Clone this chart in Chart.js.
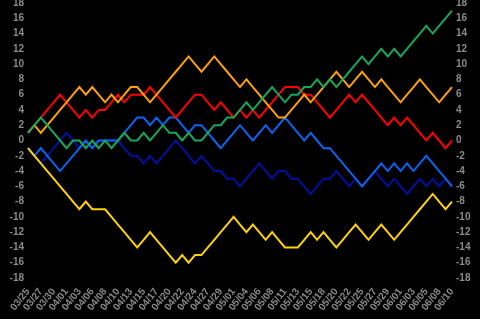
<!DOCTYPE html>
<html>
<head>
<meta charset="utf-8">
<script src="https://cdn.jsdelivr.net/npm/chart.js@4.4.0/dist/chart.umd.min.js"></script>
<style>
  html, body { margin: 0; padding: 0; background: #000; }
  #wrap { width: 480px; height: 319px; }
</style>
</head>
<body>
<div id="wrap"><canvas id="chart"></canvas></div>
<script>
// dates (Mon-Sat), every second one is shown on the axis
const dates = ["03/25","03/26","03/27","03/28","03/30","03/31",
  "04/01","04/02","04/03","04/04","04/06","04/07","04/08","04/09","04/10","04/11","04/13","04/14","04/15","04/16","04/17","04/18","04/20","04/21","04/22","04/23","04/24","04/25","04/27","04/28","04/29","04/30",
  "05/01","05/02","05/04","05/05","05/06","05/07","05/08","05/09","05/11","05/12","05/13","05/14","05/15","05/16","05/18","05/19","05/20","05/21","05/22","05/23","05/25","05/26","05/27","05/28","05/29","05/30",
  "06/01","06/02","06/03","06/04","06/05","06/06","06/08","06/09","06/10"];

const orangeVals = [1,2,1,2,3,4,5,6,7,6,7,6,5,6,5,6,7,7,6,5,6,7,8,9,10,11,10,9,10,11,10,9,8,7,8,7,6,5,4,3,3,4,5,6,5,6,7,8,9,8,7,8,9,8,7,8,7,6,5,6,7,8,7,6,5,6,7];
const redVals = [1,2,3,4,5,6,5,4,3,4,3,4,4,5,6,5,6,6,6,7,6,5,4,3,4,5,6,6,5,4,5,4,3,4,3,4,3,4,5,6,7,7,7,6,6,5,4,3,4,5,6,5,6,5,4,3,2,3,2,3,2,1,0,1,0,-1,0];
const greenVals = [1,2,3,2,1,0,-1,0,0,-1,0,-1,0,-1,0,1,0,0,1,0,1,2,1,1,0,1,0,0,1,2,2,3,3,4,5,4,5,6,7,6,5,6,6,7,7,8,7,8,7,8,9,10,11,10,11,12,11,12,11,12,13,14,15,14,15,16,17];
const blueVals = [-1,-2,-1,-2,-3,-4,-3,-2,-1,0,-1,0,0,0,0,1,2,3,3,2,3,2,3,3,2,1,2,2,1,0,-1,0,1,2,1,0,1,2,1,2,3,2,1,0,1,0,-1,-1,-2,-3,-4,-5,-6,-5,-4,-3,-4,-3,-4,-3,-4,-3,-2,-3,-4,-5,-6];
const navyVals = [-1,-2,-3,-2,-1,0,1,0,-1,0,-1,0,0,0,0,-1,-2,-2,-3,-2,-3,-2,-1,0,-1,-2,-3,-2,-3,-4,-4,-5,-5,-6,-5,-4,-3,-4,-5,-4,-4,-5,-5,-6,-7,-6,-5,-5,-4,-5,-6,-5,-6,-5,-4,-5,-6,-5,-6,-7,-6,-5,-6,-5,-6,-5,-6];
const yellowVals = [-1,-2,-3,-4,-5,-6,-7,-8,-9,-8,-9,-9,-9,-10,-11,-12,-13,-14,-13,-12,-13,-14,-15,-16,-15,-16,-15,-15,-14,-13,-12,-11,-10,-11,-12,-11,-12,-13,-12,-13,-14,-14,-14,-13,-12,-13,-12,-13,-14,-13,-12,-11,-12,-13,-12,-11,-12,-13,-12,-11,-10,-9,-8,-7,-8,-9,-8];

const yMin = -18, yMax = 18, yStep = 2;

const tickFont = { family: "'Liberation Sans', Arial, sans-serif", size: 10, weight: "bold" };
const tickColor = "#8a8a8a";

function line(data, color) {
  return {
    data: data,
    borderColor: color,
    backgroundColor: color,
    borderWidth: 2,
    pointRadius: 0,
    tension: 0,
    fill: false
  };
}

// fixed width for the side axes, no extra label padding at top/bottom
function sideFit(s) {
  s.width = 28;
  s.paddingTop = 0;
  s.paddingBottom = 0;
}

// first dataset is drawn on top
const ctx = document.getElementById("chart").getContext("2d");
new Chart(ctx, {
  type: "line",
  data: {
    labels: dates,
    datasets: [
      line(yellowVals, "#ffd200"),
      line(greenVals, "#16a85a"),
      line(orangeVals, "#ffa200"),
      line(redVals, "#ff0000"),
      line(blueVals, "#0a64f0"),
      line(navyVals, "#0010a0")
    ]
  },
  options: {
    responsive: true,
    maintainAspectRatio: false,
    animation: false,
    layout: { padding: { top: 3, left: 0, right: 0, bottom: 0 } },
    plugins: { legend: { display: false }, tooltip: { enabled: false } },
    scales: {
      x: {
        grid: { display: false, drawTicks: false },
        border: { display: false },
        afterFit: function (s) { s.height = 41; s.paddingLeft = 0; s.paddingRight = 0; },
        ticks: {
          autoSkip: false,
          minRotation: 52,
          maxRotation: 52,
          padding: 8,
          color: tickColor,
          font: tickFont,
          callback: function (v, i) { return i % 2 === 0 ? this.getLabelForValue(v) : ""; }
        }
      },
      y: {
        position: "left",
        min: yMin, max: yMax,
        grid: { display: false, drawTicks: false },
        border: { display: false },
        afterFit: sideFit,
        ticks: { stepSize: yStep, padding: 4, color: tickColor, font: tickFont }
      },
      y2: {
        position: "right",
        min: yMin, max: yMax,
        grid: { display: false, drawTicks: false },
        border: { display: false },
        afterFit: sideFit,
        ticks: { stepSize: yStep, padding: 4, color: tickColor, font: tickFont }
      }
    }
  },
  plugins: [{
    id: "bg",
    beforeDraw: function (c) {
      const g = c.ctx;
      g.save();
      g.fillStyle = "#000";
      g.fillRect(0, 0, c.width, c.height);
      g.restore();
    }
  }]
});
</script>
</body>
</html>
